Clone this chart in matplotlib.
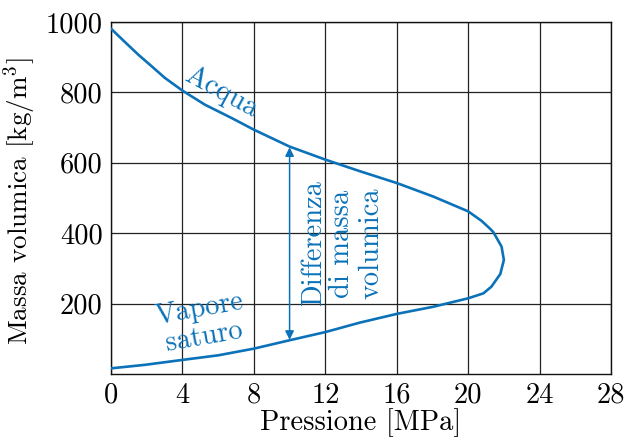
import numpy as np
import matplotlib
matplotlib.use('Agg')
import matplotlib.pyplot as plt

plt.rcParams['font.family'] = ['cmr10', 'DejaVu Serif']
plt.rcParams['mathtext.fontset'] = 'cm'
plt.rcParams['axes.unicode_minus'] = False

BLU = '#0b72b9'

# curva di saturazione: ramo liquido (alto) fino al punto critico, poi ramo vapore (basso)
pressione = [0, 0.78, 1.53, 2.28, 3.02, 4, 5.26, 6.76, 8, 10, 12, 13.94, 16.03, 18.05,
             20, 20.75, 21.22, 21.41, 21.87, 22, 21.8, 21.3, 20.85, 20, 18.05, 16.03,
             13.94, 12, 9.93, 8, 6, 4, 1.9, 0]
densita = [981, 943, 907, 874, 841, 805, 765, 727, 694, 646, 609, 576, 542, 504,
           462, 435, 413, 403, 362, 324, 284, 248, 229, 215, 191, 171,
           146, 119, 95, 72, 53, 40, 26, 16]

x_ticks = [0, 4, 8, 12, 16, 20, 24, 28]
y_ticks = [200, 400, 600, 800, 1000]

p_freccia = 10
rho_vap, rho_liq = 97, 644

fig = plt.figure(figsize=(6.29, 4.37), dpi=100)
ax = fig.add_axes([0.1765, 0.1442, 0.7949, 0.8055])

ax.plot(pressione, densita, color=BLU, lw=1.9, solid_joinstyle='round',
        solid_capstyle='round', zorder=3)

ax.annotate('', xy=(p_freccia, rho_liq), xytext=(p_freccia, rho_vap),
            arrowprops=dict(arrowstyle='<|-|>', color=BLU, lw=1.1,
                            mutation_scale=13, shrinkA=0, shrinkB=0), zorder=4)

fs = 20.5
ax.text(6.2, 800, 'Acqua', color=BLU, fontsize=fs, rotation=-28.5,
        ha='center', va='center', rotation_mode='anchor')
ax.text(5.1, 145, 'Vapore\nsaturo', color=BLU, fontsize=fs, rotation=10,
        ha='center', va='center', multialignment='center', rotation_mode='anchor',
        linespacing=1.12)
ax.text(12.95, 371, 'Differenza\ndi massa\nvolumica', color=BLU, fontsize=fs,
        rotation=90, ha='center', va='center', multialignment='center',
        rotation_mode='anchor', linespacing=1.12)

ax.set_xlim(0, 28)
ax.set_ylim(0, 1000)
ax.set_xticks(x_ticks)
ax.set_yticks(y_ticks)
ax.grid(True, color='#222222', lw=0.9)
ax.set_axisbelow(True)
ax.tick_params(length=0, labelsize=fs, pad=6)
for s in ax.spines.values():
    s.set_linewidth(1.0)
    s.set_color('#111111')

ax.set_xlabel('Pressione [MPa]', fontsize=fs, labelpad=0)
ax.set_ylabel('Massa volumica [kg/m$^3$]', fontsize=19.5)
ax.yaxis.set_label_coords(-0.147, 0.49)

fig.savefig('out.png', dpi=100)
